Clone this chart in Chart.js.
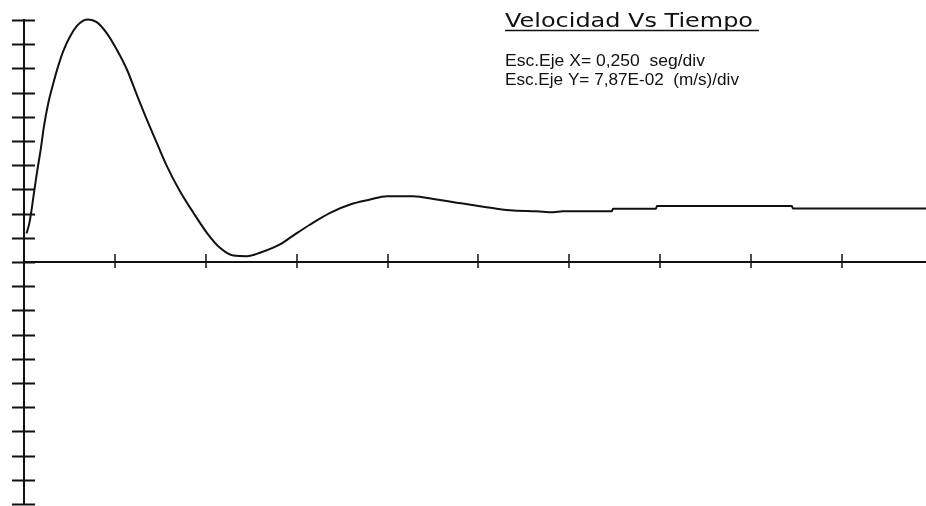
<!DOCTYPE html>
<html>
<head>
<meta charset="utf-8">
<script src="https://cdn.jsdelivr.net/npm/chart.js@4/dist/chart.umd.min.js"></script>
<style>
  html, body { margin: 0; padding: 0; background: #fff; }
  #wrap { width: 926px; height: 506px; }
</style>
</head>
<body>
<div id="wrap"><canvas id="c" width="926" height="506"></canvas></div>
<script>
// Plot heading and axis scale notes
const TITLE = 'Velocidad Vs Tiempo';
const SCALE_NOTES = ['Esc.Eje X= 0,250  seg/div', 'Esc.Eje Y= 7,87E-02  (m/s)/div'];

// One division on each axis
const X_STEP = 0.25;      // seg/div
const Y_STEP = 0.0787;    // (m/s)/div
const X_DIVS = [1, 2, 3, 4, 5, 6, 7, 8, 9];
const Y_DIVS = [-10, -9, -8, -7, -6, -5, -4, -3, -2, -1, 0, 1, 2, 3, 4, 5, 6, 7, 8, 9, 10];
const X_MAX = 2.481;

// Recorded response: time (s) and velocity (m/s)
const TIME = [0.007, 0.015, 0.021, 0.028, 0.037, 0.046, 0.055, 0.067, 0.081, 0.094,
              0.108, 0.127, 0.145, 0.163, 0.177, 0.200, 0.227, 0.255, 0.283, 0.310,
              0.338, 0.365, 0.393, 0.429, 0.466, 0.503, 0.539, 0.576, 0.613, 0.649,
              0.704, 0.732, 0.787, 0.842, 0.897, 0.952, 0.998, 1.071, 1.135, 1.190,
              1.263, 1.337, 1.410, 1.456, 1.482, 1.617, 1.620, 1.738, 1.741, 2.112,
              2.115, 2.481];
const VELOCITY = [0.093, 0.128, 0.171, 0.230, 0.301, 0.366, 0.442, 0.518, 0.583, 0.637,
                  0.686, 0.734, 0.767, 0.785, 0.789, 0.780, 0.745, 0.691, 0.626, 0.545,
                  0.463, 0.388, 0.312, 0.230, 0.160, 0.095, 0.046, 0.021, 0.019, 0.030,
                  0.057, 0.079, 0.122, 0.160, 0.187, 0.203, 0.214, 0.214, 0.203, 0.193,
                  0.180, 0.168, 0.165, 0.162, 0.165, 0.165, 0.173, 0.173, 0.182, 0.182,
                  0.174, 0.174];

const INK = '#111';

// Cross-shaped tick marks on both axes plus the heading block
const plotMarks = {
  id: 'plotMarks',
  afterDraw(chart) {
    const { ctx, scales: { x, y } } = chart;
    const zeroY = y.getPixelForValue(0);
    const axisX = x.left;
    ctx.save();
    ctx.strokeStyle = INK;
    ctx.lineCap = 'butt';

    ctx.lineWidth = 2;
    y.ticks.forEach(t => {
      const py = Math.round(y.getPixelForValue(t.value)) + 0.5;
      ctx.beginPath();
      ctx.moveTo(axisX - 12, py);
      ctx.lineTo(axisX + 11, py);
      ctx.stroke();
    });

    ctx.lineWidth = 1.5;
    x.ticks.forEach(t => {
      const px = Math.round(x.getPixelForValue(t.value));
      ctx.beginPath();
      ctx.moveTo(px, zeroY - 8);
      ctx.lineTo(px, zeroY + 6);
      ctx.stroke();
    });

    // heading text, stretched to its box width
    const fit = (text, tx, ty, font, width) => {
      ctx.save();
      ctx.font = font;
      const w = ctx.measureText(text).width;
      ctx.translate(tx, ty);
      ctx.scale(width / w, 1);
      ctx.fillStyle = INK;
      ctx.textBaseline = 'alphabetic';
      ctx.fillText(text, 0, 0);
      ctx.restore();
    };
    fit(TITLE, 505, 26.5, '20px "DejaVu Sans"', 248);
    ctx.lineWidth = 1.5;
    ctx.beginPath();
    ctx.moveTo(505, 30.5);
    ctx.lineTo(759, 30.5);
    ctx.stroke();

    fit(SCALE_NOTES[0], 505, 65.5, '17px "Liberation Sans"', 200);
    fit(SCALE_NOTES[1], 505, 85, '17px "Liberation Sans"', 234);
    ctx.restore();
  }
};

new Chart(document.getElementById('c'), {
  type: 'line',
  data: {
    datasets: [{
      data: TIME.map((t, i) => ({ x: t, y: VELOCITY[i] })),
      borderColor: INK,
      borderWidth: 2,
      pointRadius: 0,
      fill: false,
      cubicInterpolationMode: 'monotone',
      clip: false
    }]
  },
  options: {
    responsive: false,
    animation: false,
    devicePixelRatio: 1,
    layout: { padding: { left: 24, top: 20, right: 0, bottom: 2 } },
    plugins: { legend: { display: false }, tooltip: { enabled: false }, title: { display: false } },
    scales: {
      x: {
        type: 'linear',
        min: 0,
        max: X_MAX,
        position: { y: 0 },
        grid: { display: false, drawTicks: false },
        ticks: { display: false },
        border: { display: true, color: INK, width: 2 },
        afterBuildTicks: s => { s.ticks = X_DIVS.map(d => ({ value: d * X_STEP })); }
      },
      y: {
        type: 'linear',
        min: Y_DIVS[0] * Y_STEP,
        max: Y_DIVS[Y_DIVS.length - 1] * Y_STEP,
        position: 'left',
        grid: { display: false, drawTicks: false },
        ticks: { display: false },
        border: { display: true, color: INK, width: 2 },
        afterBuildTicks: s => { s.ticks = Y_DIVS.map(d => ({ value: d * Y_STEP })); }
      }
    }
  },
  plugins: [plotMarks]
});
</script>
</body>
</html>
